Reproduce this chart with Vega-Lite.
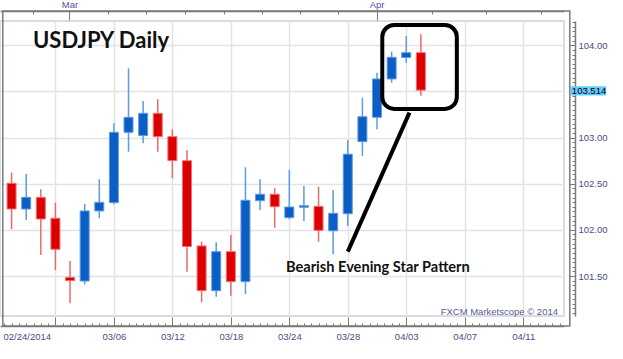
{
  "$schema": "https://vega.github.io/schema/vega-lite/v6.json",
  "width": 564,
  "height": 295,
  "autosize": {"type": "none"},
  "padding": {"left": 0, "top": 21, "right": 59, "bottom": 43},
  "background": "white",
  "title": {"text": "USDJPY Daily", "anchor": "start", "frame": "group", "orient": "top", "font": "Lato", "fontSize": 22, "fontWeight": "bold", "color": "#111111", "baseline": "alphabetic", "offset": 0, "dx": 33, "dy": 71},
  "config": {
    "view": {"stroke": "#d5dcea", "strokeWidth": 2},
    "axis": {"labelFont": "Liberation Sans", "labelFontSize": 9.5, "labelColor": "#4c4c84", "domainColor": "#7a7a7a", "domainWidth": 1.5, "tickColor": "#7a7a7a", "tickWidth": 1, "gridColor": "#e3e3e3", "gridWidth": 1.5, "labelOverlap": false, "labelBound": false, "labelFlush": false}
  },
  "data": {"values": [
    {"i": 0, "date": "2014-02-25", "o": 102.505, "h": 102.62, "l": 102.007, "c": 102.226},
    {"i": 1, "date": "2014-02-26", "o": 102.226, "h": 102.606, "l": 102.107, "c": 102.353},
    {"i": 2, "date": "2014-02-27", "o": 102.353, "h": 102.44, "l": 101.728, "c": 102.118},
    {"i": 3, "date": "2014-02-28", "o": 102.126, "h": 102.295, "l": 101.566, "c": 101.79},
    {"i": 4, "date": "2014-03-03", "o": 101.486, "h": 101.663, "l": 101.205, "c": 101.45},
    {"i": 5, "date": "2014-03-04", "o": 101.446, "h": 102.281, "l": 101.41, "c": 102.205},
    {"i": 6, "date": "2014-03-05", "o": 102.205, "h": 102.548, "l": 102.126, "c": 102.299},
    {"i": 7, "date": "2014-03-06", "o": 102.295, "h": 103.155, "l": 102.277, "c": 103.057},
    {"i": 8, "date": "2014-03-07", "o": 103.057, "h": 103.751, "l": 102.847, "c": 103.22},
    {"i": 9, "date": "2014-03-10", "o": 103.021, "h": 103.397, "l": 102.938, "c": 103.263},
    {"i": 10, "date": "2014-03-11", "o": 103.263, "h": 103.415, "l": 102.847, "c": 103.01},
    {"i": 11, "date": "2014-03-12", "o": 103.01, "h": 103.09, "l": 102.559, "c": 102.75},
    {"i": 12, "date": "2014-03-13", "o": 102.75, "h": 102.862, "l": 101.547, "c": 101.82},
    {"i": 13, "date": "2014-03-14", "o": 101.826, "h": 101.872, "l": 101.216, "c": 101.341},
    {"i": 14, "date": "2014-03-17", "o": 101.341, "h": 101.866, "l": 101.276, "c": 101.764},
    {"i": 15, "date": "2014-03-18", "o": 101.764, "h": 101.945, "l": 101.287, "c": 101.439},
    {"i": 16, "date": "2014-03-19", "o": 101.439, "h": 102.678, "l": 101.306, "c": 102.321},
    {"i": 17, "date": "2014-03-20", "o": 102.316, "h": 102.548, "l": 102.216, "c": 102.386},
    {"i": 18, "date": "2014-03-21", "o": 102.386, "h": 102.451, "l": 102.024, "c": 102.251},
    {"i": 19, "date": "2014-03-24", "o": 102.132, "h": 102.649, "l": 102.115, "c": 102.248},
    {"i": 20, "date": "2014-03-25", "o": 102.245, "h": 102.476, "l": 102.096, "c": 102.262},
    {"i": 21, "date": "2014-03-26", "o": 102.255, "h": 102.468, "l": 101.872, "c": 101.995},
    {"i": 22, "date": "2014-03-27", "o": 101.99, "h": 102.432, "l": 101.736, "c": 102.18},
    {"i": 23, "date": "2014-03-28", "o": 102.175, "h": 102.974, "l": 102.042, "c": 102.82},
    {"i": 24, "date": "2014-03-31", "o": 102.956, "h": 103.432, "l": 102.8, "c": 103.226},
    {"i": 25, "date": "2014-04-01", "o": 103.22, "h": 103.703, "l": 103.09, "c": 103.635},
    {"i": 26, "date": "2014-04-02", "o": 103.635, "h": 103.931, "l": 103.595, "c": 103.87},
    {"i": 27, "date": "2014-04-03", "o": 103.868, "h": 104.101, "l": 103.811, "c": 103.92},
    {"i": 28, "date": "2014-04-04", "o": 103.92, "h": 104.119, "l": 103.454, "c": 103.514}
  ]},
  "resolve": {"axis": {"x": "independent", "y": "independent"}},
  "layer": [
    {
      "mark": {"type": "rule", "strokeWidth": 1.5},
      "encoding": {
        "x": {"field": "i", "type": "quantitative", "scale": {"domain": [-0.45, 37.45], "nice": false, "zero": false},
          "axis": {"orient": "bottom", "offset": 10, "title": null, "values": [3, 7, 11, 15, 19, 23, 27, 31, 35],
            "labelExpr": "datum.value==7?'03/06':datum.value==11?'03/12':datum.value==15?'03/18':datum.value==19?'03/24':datum.value==23?'03/28':datum.value==27?'04/03':datum.value==31?'04/07':datum.value==35?'04/11':''",
            "tickSize": -9, "labelPadding": 14, "grid": true, "domain": true}},
        "y": {"field": "l", "type": "quantitative", "scale": {"domain": [101.067, 104.263], "nice": false, "zero": false},
          "axis": {"orient": "right", "offset": 11, "title": null, "values": [101.5, 102, 102.5, 103, 103.5, 104], "labelExpr": "datum.value == 103.5 ? '' : format(datum.value, '.2f')", "tickSize": -6, "labelPadding": 9, "grid": true, "domain": true}},
        "y2": {"field": "h"},
        "color": {"condition": {"test": "datum.c >= datum.o", "value": "#5b9be3"}, "value": "#ea6a6a"}
      }
    },
    {
      "mark": {"type": "bar", "width": 9, "strokeWidth": 1},
      "encoding": {
        "x": {"field": "i", "type": "quantitative", "scale": {"domain": [-0.45, 37.45], "nice": false, "zero": false},
          "axis": {"orient": "bottom", "offset": 10, "title": null, "tickCount": 76, "labels": false, "domain": false, "grid": false, "tickSize": -3}},
        "y": {"field": "o", "type": "quantitative", "scale": {"domain": [101.067, 104.263], "nice": false, "zero": false},
          "axis": {"orient": "right", "offset": 11, "title": null, "tickCount": 64, "labels": false, "domain": false, "grid": false, "tickSize": -3}},
        "y2": {"field": "c"},
        "fill": {"condition": {"test": "datum.c >= datum.o", "value": "#0a5ec4"}, "value": "#dc0000"},
        "stroke": {"condition": {"test": "datum.c >= datum.o", "value": "#5e9ce0"}, "value": "#ee7070"}
      }
    },
    {
      "data": {"values": [{}]},
      "mark": {"type": "rect", "filled": false, "stroke": "#7a7a7a", "strokeWidth": 1.5},
      "encoding": {
        "x": {"datum": -0.6, "type": "quantitative", "scale": {"domain": [-0.45, 37.45], "nice": false, "zero": false}, "axis": null},
        "x2": {"datum": 38.19},
        "y": {"datum": 104.371, "type": "quantitative", "scale": {"domain": [101.067, 104.263], "nice": false, "zero": false}, "axis": null},
        "y2": {"datum": 100.959}
      }
    },
    {
      "data": {"values": [{}]},
      "mark": {"type": "rect", "filled": false, "stroke": "#000000", "strokeWidth": 4, "cornerRadius": 12},
      "encoding": {
        "x": {"datum": 25.36, "type": "quantitative", "scale": {"domain": [-0.45, 37.45], "nice": false, "zero": false},
          "axis": {"orient": "top", "offset": 10, "title": null, "values": [3.958, 24.966], "labelExpr": "datum.value < 10 ? 'Mar' : 'Apr'", "tickSize": -9, "labelPadding": 11, "grid": false, "domain": true, "labelColor": "#5a4e9e"}},
        "x2": {"datum": 30.46},
        "y": {"datum": 104.22, "type": "quantitative", "scale": {"domain": [101.067, 104.263], "nice": false, "zero": false}, "axis": null},
        "y2": {"datum": 103.31}
      }
    },
    {
      "data": {"values": [{}]},
      "mark": {"type": "rule", "stroke": "#000000", "strokeWidth": 4},
      "encoding": {
        "x": {"datum": 23.0, "type": "quantitative", "scale": {"domain": [-0.45, 37.45], "nice": false, "zero": false},
          "axis": {"orient": "top", "offset": 10, "title": null, "values": [1.465, 6.6, 9.214, 11.835, 14.503, 17.117, 19.738, 22.325, 28.73, 32.473, 36.21], "labels": false, "domain": false, "grid": false, "tickSize": -3}},
        "x2": {"datum": 27.22},
        "y": {"datum": 101.764, "type": "quantitative", "scale": {"domain": [101.067, 104.263], "nice": false, "zero": false}, "axis": null},
        "y2": {"datum": 103.27}
      }
    },
    {
      "data": {"values": [{}]},
      "mark": {"type": "text", "font": "Lato", "fontWeight": "bold", "fontSize": 14.6, "align": "left", "baseline": "alphabetic", "color": "#111111"},
      "encoding": {
        "x": {"datum": 18.77, "type": "quantitative", "scale": {"domain": [-0.45, 37.45], "nice": false, "zero": false},
          "axis": {"orient": "bottom", "offset": 10, "title": null, "values": [-0.45], "labelExpr": "'02/24/2014'", "labelAlign": "left", "labelOffset": -2, "labelPadding": 5, "ticks": false, "domain": false, "grid": false}},
        "y": {"datum": 101.547, "type": "quantitative", "scale": {"domain": [101.067, 104.263], "nice": false, "zero": false}, "axis": null},
        "text": {"value": "Bearish Evening Star Pattern"}
      }
    },
    {
      "data": {"values": [{}]},
      "mark": {"type": "text", "font": "Liberation Sans", "fontSize": 9.5, "align": "right", "baseline": "alphabetic", "color": "#5a5a8a", "dx": -1},
      "encoding": {
        "x": {"datum": 37.45, "type": "quantitative", "scale": {"domain": [-0.45, 37.45], "nice": false, "zero": false}, "axis": null},
        "y": {"datum": 101.078, "type": "quantitative", "scale": {"domain": [101.067, 104.263], "nice": false, "zero": false}, "axis": null},
        "text": {"value": "FXCM Marketscope © 2014"}
      }
    },
    {
      "data": {"values": [{}]},
      "mark": {"type": "rect", "fill": "#66ccff"},
      "encoding": {
        "x": {"datum": 38.24, "type": "quantitative", "scale": {"domain": [-0.45, 37.45], "nice": false, "zero": false}, "axis": null},
        "x2": {"datum": 40.68},
        "y": {"datum": 103.556, "type": "quantitative", "scale": {"domain": [101.067, 104.263], "nice": false, "zero": false}, "axis": null},
        "y2": {"datum": 103.456}
      }
    },
    {
      "data": {"values": [{}]},
      "mark": {"type": "text", "font": "Liberation Sans", "fontSize": 9.5, "align": "left", "baseline": "middle", "color": "#000000"},
      "encoding": {
        "x": {"datum": 38.33, "type": "quantitative", "scale": {"domain": [-0.45, 37.45], "nice": false, "zero": false}, "axis": null},
        "y": {"datum": 103.506, "type": "quantitative", "scale": {"domain": [101.067, 104.263], "nice": false, "zero": false}, "axis": null},
        "text": {"value": "103.514"}
      }
    }
  ]
}
